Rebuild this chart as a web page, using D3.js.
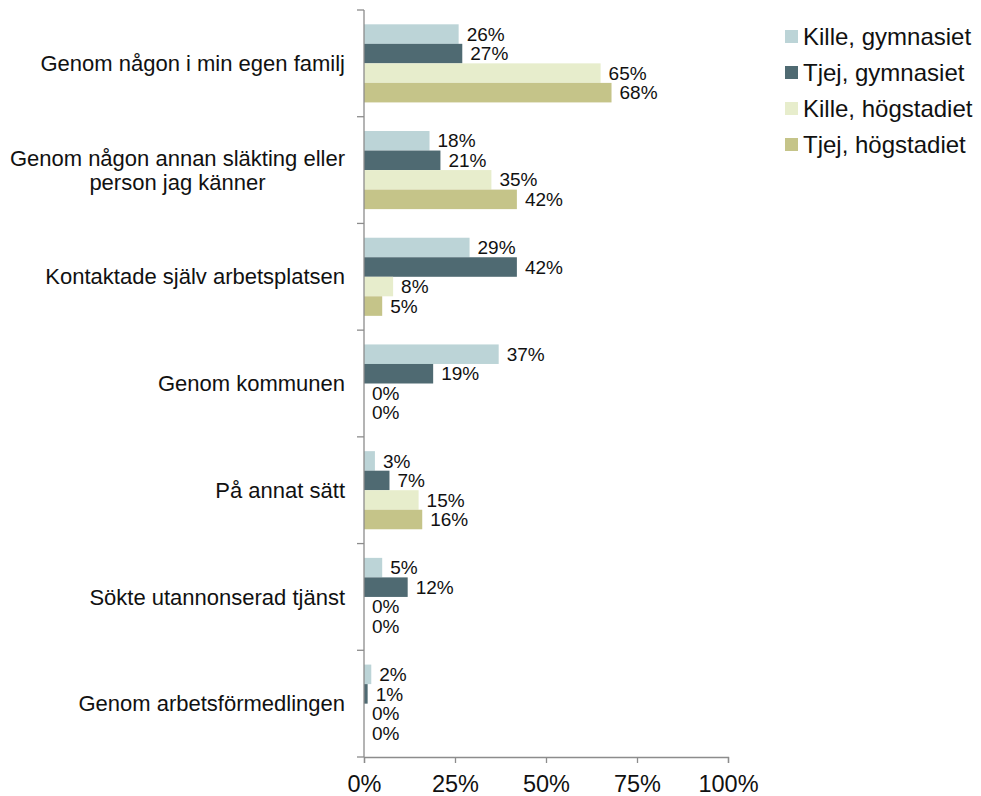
<!DOCTYPE html>
<html>
<head>
<meta charset="utf-8">
<script src="https://cdn.jsdelivr.net/npm/d3@7"></script>
<style>
body { margin: 0; background: #fff; }
text { font-family: "Liberation Sans", Arial, sans-serif; fill: #111; }
</style>
</head>
<body>
<div id="chart"></div>
<script>
// categories (top to bottom), multi-line labels split with "\n"
var categories = [
    "Genom någon i min egen familj",
    "Genom någon annan släkting eller\nperson jag känner",
    "Kontaktade själv arbetsplatsen",
    "Genom kommunen",
    "På annat sätt",
    "Sökte utannonserad tjänst",
    "Genom arbetsförmedlingen"
];
var seriesNames = ["Kille, gymnasiet", "Tjej, gymnasiet", "Kille, högstadiet", "Tjej, högstadiet"];
var killeGymnasiet = [26, 18, 29, 37, 3, 5, 2];
var tjejGymnasiet = [27, 21, 42, 19, 7, 12, 1];
var killeHogstadiet = [65, 35, 8, 0, 15, 0, 0];
var tjejHogstadiet = [68, 42, 5, 0, 16, 0, 0];
var xTicks = [0, 25, 50, 75, 100];

var seriesValues = [killeGymnasiet, tjejGymnasiet, killeHogstadiet, tjejHogstadiet];
var colors = ["#bcd4d7", "#4f6a72", "#e7edcc", "#c5c489"];

var width = 981, height = 796;
var margin = {top: 10, left: 364, right: 253, bottom: 39};
var innerW = width - margin.left - margin.right,
    innerH = height - margin.top - margin.bottom;

var svg = d3.select("#chart").append("svg")
    .attr("width", width)
    .attr("height", height);
var g = svg.append("g").attr("transform", "translate(" + margin.left + "," + margin.top + ")");

var x = d3.scaleLinear().domain([0, 100]).range([0, innerW]);
var y0 = d3.scaleBand().domain(d3.range(categories.length)).range([0, innerH]).paddingInner(0.268).paddingOuter(0.134);
var y1 = d3.scaleBand().domain(d3.range(seriesNames.length)).range([0, y0.bandwidth()]);

// rows of data
var rows = categories.map(function (c, i) {
    return seriesValues.map(function (s, k) { return {cat: i, key: k, value: s[i]}; });
});

var groups = g.selectAll(".cat")
    .data(rows)
    .enter().append("g")
    .attr("class", "cat")
    .attr("transform", function (d, i) { return "translate(0," + y0(i) + ")"; });

groups.selectAll("rect")
    .data(function (d) { return d; })
    .enter().append("rect")
    .attr("x", 0)
    .attr("y", function (d) { return y1(d.key); })
    .attr("width", function (d) { return x(d.value); })
    .attr("height", y1.bandwidth())
    .attr("fill", function (d) { return colors[d.key]; });

groups.selectAll("text.val")
    .data(function (d) { return d; })
    .enter().append("text")
    .attr("class", "val")
    .attr("x", function (d) { return x(d.value) + 8; })
    .attr("y", function (d) { return y1(d.key) + y1.bandwidth() / 2; })
    .attr("dy", "0.35em")
    .attr("font-size", 19)
    .text(function (d) { return d.value + "%"; });

// axes
var axisColor = "#8c8c8c";
var step = innerH / categories.length;
var yAxis = g.append("g");
yAxis.append("line")
    .attr("x1", 0).attr("x2", 0).attr("y1", 0).attr("y2", innerH)
    .attr("stroke", axisColor).attr("stroke-width", 1.3);
yAxis.selectAll("line.tick")
    .data(d3.range(categories.length + 1))
    .enter().append("line")
    .attr("class", "tick")
    .attr("x1", -7).attr("x2", 0)
    .attr("y1", function (d) { return d * step; })
    .attr("y2", function (d) { return d * step; })
    .attr("stroke", axisColor).attr("stroke-width", 1.3);

var xAxis = g.append("g")
    .attr("transform", "translate(0," + innerH + ")")
    .call(d3.axisBottom(x).tickValues(xTicks).tickSize(6).tickPadding(12)
        .tickFormat(function (d) { return d + "%"; }));
xAxis.select(".domain").attr("stroke", axisColor).attr("stroke-width", 1.3);
xAxis.selectAll(".tick line").attr("stroke", axisColor).attr("stroke-width", 1.3);
xAxis.selectAll(".tick text")
    .attr("font-size", 23.5)
    .attr("font-family", "Liberation Sans, Arial, sans-serif")
    .attr("fill", "#111");

// category labels
var labelSize = 22, lineH = 24;
categories.forEach(function (c, i) {
    var lines = c.split("\n");
    var cy = y0(i) + y0.bandwidth() / 2;
    if (lines.length === 1) {
        g.append("text")
            .attr("font-size", labelSize)
            .attr("text-anchor", "end")
            .attr("x", -19)
            .attr("y", cy)
            .attr("dy", "0.35em")
            .text(c);
    } else {
        // measure widest line, then center lines in that block
        var tmp = g.append("text").attr("font-size", labelSize).text(lines[0]);
        var w = tmp.node().getComputedTextLength();
        tmp.remove();
        lines.forEach(function (ln, j) {
            g.append("text")
                .attr("font-size", labelSize)
                .attr("text-anchor", "middle")
                .attr("x", -19 - w / 2)
                .attr("y", cy - (lines.length - 1) * lineH / 2 + j * lineH)
                .attr("dy", "0.35em")
                .text(ln);
        });
    }
});

// legend
var legend = svg.append("g")
    .attr("transform", "translate(785,30)")
    .selectAll("g")
    .data(seriesNames)
    .enter().append("g")
    .attr("transform", function (d, i) { return "translate(0," + i * 36 + ")"; });
legend.append("rect")
    .attr("width", 13).attr("height", 13)
    .attr("fill", function (d, i) { return colors[i]; });
legend.append("text")
    .attr("x", 18)
    .attr("y", 7)
    .attr("dy", "0.35em")
    .attr("font-size", 24)
    .text(function (d) { return d; });
</script>
</body>
</html>
